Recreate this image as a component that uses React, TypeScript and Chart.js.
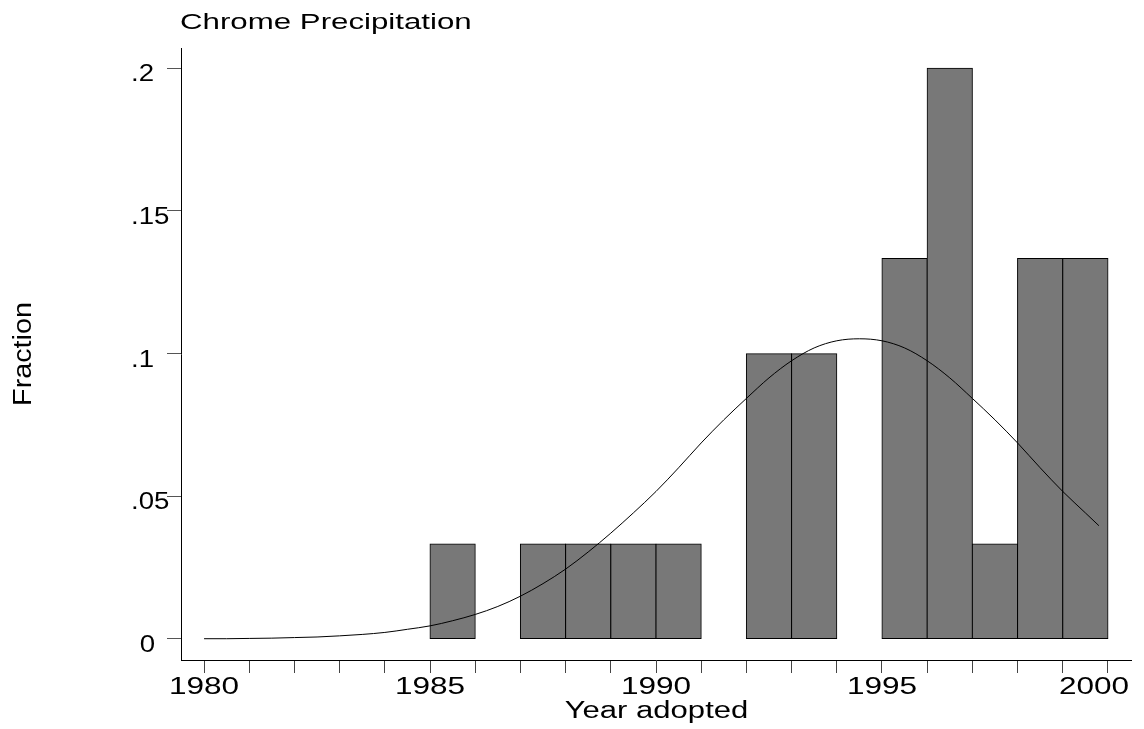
import React, { useEffect, useRef } from 'react';
import { Chart, registerables } from 'chart.js';

Chart.register(...registerables);

const titleText = 'Chrome Precipitation';
const xAxisTitle = 'Year adopted';
const yAxisTitle = 'Fraction';

// Histogram: bins of width one year, [start, start+1)
const binStarts = [1985, 1987, 1988, 1989, 1990, 1992, 1993, 1995, 1996, 1997, 1998, 1999];
const binFractions = [0.0333, 0.0333, 0.0333, 0.0333, 0.0333, 0.1, 0.1, 0.1333, 0.2, 0.0333, 0.1333, 0.1333];

// Overlaid normal curve
const curveYears = [
  1980, 1980.5, 1981, 1981.5, 1982, 1982.5, 1983, 1983.5, 1984, 1984.5,
  1985, 1985.5, 1986, 1986.5, 1987, 1987.5, 1988, 1988.5, 1989, 1989.5,
  1990, 1990.5, 1991, 1991.5, 1992, 1992.5, 1993, 1993.5, 1994, 1994.5,
  1995, 1995.5, 1996, 1996.5, 1997, 1997.5, 1998, 1998.5, 1999, 1999.5, 1999.8,
];
const curveValues = [
  0.0001, 0.0001, 0.0002, 0.0003, 0.0005, 0.0007, 0.0011, 0.0016, 0.0023, 0.0034,
  0.0046, 0.0064, 0.0086, 0.0114, 0.0150, 0.0194, 0.0245, 0.0305, 0.0371, 0.0442,
  0.0517, 0.0600, 0.0687, 0.0768, 0.0843, 0.0915, 0.0975, 0.1020, 0.1045, 0.1052,
  0.1045, 0.1020, 0.0975, 0.0915, 0.0843, 0.0768, 0.0687, 0.0600, 0.0517, 0.0442, 0.0397,
];

const xTickValues = [
  1980, 1981, 1982, 1983, 1984, 1985, 1986, 1987, 1988, 1989, 1990,
  1991, 1992, 1993, 1994, 1995, 1996, 1997, 1998, 1999, 2000,
];
const xLabelValues = [1980, 1985, 1990, 1995, 2000];
const xLabelTexts = ['1980', '1985', '1990', '1995', '2000'];
const yTickValues = [0, 0.05, 0.1, 0.15, 0.2];
const yTickLabels = ['0', '.05', '.1', '.15', '.2'];

const FONT = '"Liberation Sans", Arial, Helvetica, sans-serif';

const textPlugin = {
  id: 'stataText',
  afterDraw(chart: any) {
    const ctx: CanvasRenderingContext2D = chart.ctx;
    const xs = chart.scales.x;
    const ys = chart.scales.y;
    const width = (text: string, size: number, sx: number) => {
      ctx.save();
      ctx.font = `${size}px ${FONT}`;
      const w = ctx.measureText(text).width * sx;
      ctx.restore();
      return w;
    };
    const draw = (text: string, x: number, y: number, sx: number, align: CanvasTextAlign, size: number, rot = 0) => {
      ctx.save();
      ctx.font = `${size}px ${FONT}`;
      ctx.fillStyle = '#000';
      ctx.textAlign = align;
      ctx.textBaseline = 'alphabetic';
      ctx.translate(x, y);
      if (rot) ctx.rotate(rot);
      ctx.scale(sx, 1);
      ctx.fillText(text, 0, 0);
      ctx.restore();
    };
    // title
    draw(titleText, xs.left - 1, 28.5, 1.42, 'left', 22);
    // x tick labels (kept inside the axis line's extent)
    xLabelValues.forEach((v, i) => {
      const w = width(xLabelTexts[i], 23, 1.37);
      const cx = Math.min(xs.getPixelForValue(v), xs.right - w / 2 - 2);
      draw(xLabelTexts[i], cx, xs.top + 34, 1.37, 'center', 23);
    });
    // x title
    draw(xAxisTitle, (xs.left + xs.right) / 2 + 0.5, xs.top + 58, 1.35, 'center', 23);
    // y tick labels: decimals left-justified, integers right-justified
    yTickValues.forEach((v, i) => {
      const lab = yTickLabels[i];
      const y = ys.getPixelForValue(v) + 13;
      if (lab.startsWith('.')) draw(lab, ys.right - 50, y, 1.2, 'left', 23);
      else draw(lab, ys.right - 26, y, 1.2, 'right', 23);
    });
    // y title
    draw(yAxisTitle, 31, (ys.top + ys.bottom) / 2, 1.15, 'center', 25, -Math.PI / 2);
  },
};

export default function App() {
  const canvasRef = useRef<HTMLCanvasElement | null>(null);

  useEffect(() => {
    const canvas = canvasRef.current;
    if (!canvas) return;
    const chart = new Chart(canvas, {
      type: 'bar',
      data: {
        datasets: [
          {
            type: 'line',
            label: 'Normal density',
            data: curveYears.map((x, i) => ({ x, y: curveValues[i] })),
            borderColor: '#000',
            borderWidth: 1,
            pointRadius: 0,
            fill: false,
            cubicInterpolationMode: 'monotone',
            order: 0,
          } as any,
          {
            type: 'bar',
            label: 'Fraction',
            data: binStarts.map((s, i) => ({ x: s + 0.5, y: binFractions[i] })),
            backgroundColor: '#787878',
            borderColor: '#000',
            borderWidth: 1,
            borderSkipped: false,
            inflateAmount: 0.5,
            barPercentage: 1,
            categoryPercentage: 1,
            order: 1,
          } as any,
        ],
      },
      options: {
        responsive: false,
        animation: false,
        events: [],
        layout: { padding: { left: 0, right: 13, top: 48, bottom: 0 }, autoPadding: false } as any,
        plugins: {
          legend: { display: false },
          tooltip: { enabled: false },
          title: { display: false },
        },
        scales: {
          x: {
            type: 'linear',
            position: 'bottom',
            offset: false,
            min: 1979.49,
            max: 2000.51,
            afterBuildTicks: (s: any) => {
              s.ticks = xTickValues.map((v) => ({ value: v }));
            },
            afterFit: (s: any) => {
              s.height = 69;
            },
            ticks: { display: false },
            grid: {
              display: true,
              offset: false,
              drawOnChartArea: false,
              drawTicks: true,
              tickLength: 13,
              color: '#444',
              lineWidth: 1,
            },
            border: { display: true, color: '#000', width: 1 },
          },
          y: {
            type: 'linear',
            position: 'left',
            min: -0.00736,
            max: 0.2071,
            afterBuildTicks: (s: any) => {
              s.ticks = yTickValues.map((v) => ({ value: v }));
            },
            afterFit: (s: any) => {
              s.width = 181;
            },
            ticks: { display: false },
            grid: {
              display: true,
              drawOnChartArea: false,
              drawTicks: true,
              tickLength: 14,
              color: '#555',
              lineWidth: 1,
            },
            border: { display: true, color: '#000', width: 1 },
          },
        },
      },
      plugins: [textPlugin],
    } as any);
    return () => chart.destroy();
  }, []);

  return (
    <div style={{ position: 'absolute', left: 0, top: 0, width: 1144, height: 729, background: '#fff' }}>
      <canvas ref={canvasRef} width={1144} height={729} style={{ width: 1144, height: 729, display: 'block' }} />
    </div>
  );
}
